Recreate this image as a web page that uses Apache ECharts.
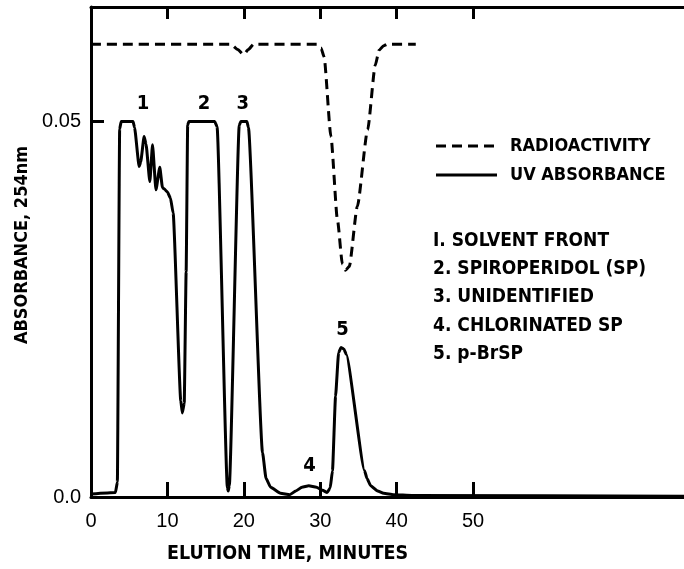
<!DOCTYPE html>
<html>
<head>
<meta charset="utf-8">
<script src="https://cdn.jsdelivr.net/npm/echarts@6/dist/echarts.min.js"></script>
<style>
html,body{margin:0;padding:0;background:#fff;}
#c{width:684px;height:569px;}
</style>
</head>
<body>
<div id="c"></div>
<script>
// ---- data (time in minutes, absorbance units) ----
var uvTime = [0, 3.2, 3.45, 3.75, 3.95, 5.5, 5.7, 6.3, 6.5, 6.95, 7.2, 7.7, 8.05, 8.5, 9.0, 9.35, 9.6, 10.0, 10.4, 10.75, 11.75, 11.95, 12.2, 12.45, 12.65, 12.8, 16.2, 16.5, 17.85, 17.95, 18.1, 19.4, 19.6, 20.4, 20.6, 22.45, 22.9, 23.5, 24.8, 26.0, 26.8, 27.6, 28.5, 29.5, 30.3, 30.9, 31.3, 31.6, 32.0, 32.4, 32.7, 33.1, 33.4, 35.8, 36.1, 36.6, 37.5, 38.3, 39.6, 42, 77.6];
var uvValue = [0.0004, 0.0006, 0.002, 0.049, 0.05, 0.05, 0.0492, 0.044, 0.0446, 0.048, 0.047, 0.042, 0.0469, 0.0409, 0.0439, 0.0412, 0.041, 0.0406, 0.0398, 0.0378, 0.0128, 0.0112, 0.0125, 0.03, 0.0495, 0.05, 0.05, 0.0493, 0.0012, 0.0008, 0.0015, 0.0495, 0.05, 0.05, 0.0492, 0.0059, 0.0025, 0.0013, 0.0005, 0.0003, 0.0008, 0.0013, 0.0015, 0.0013, 0.0009, 0.0006, 0.0012, 0.0035, 0.0134, 0.0192, 0.0199, 0.0197, 0.019, 0.0035, 0.0025, 0.0015, 0.0008, 0.0005, 0.0003, 0.0002, 0.0001];
var radioTime = [0, 18.3, 19.2, 19.95, 20.6, 21.3, 29.6, 30.1, 30.5, 31.4, 32.25, 32.9, 33.3, 33.8, 34.85, 36.2, 37.2, 37.7, 38.3, 38.8, 42.5];
var radioValue = [0.0603, 0.0603, 0.0596, 0.0589, 0.0596, 0.0603, 0.0603, 0.0598, 0.0586, 0.048, 0.0369, 0.031, 0.0302, 0.0307, 0.0387, 0.0489, 0.0575, 0.0595, 0.0601, 0.0603, 0.0603];
var peakNames = ['1', '2', '3', '4', '5'];
var peakTime = [6.8, 14.8, 19.85, 28.6, 32.9];
var peakValue = [0.0523, 0.0523, 0.0523, 0.0041, 0.0222];
var xLabelValues = [0, 10, 20, 30, 40, 50];
var xTickValues = [10, 20, 30, 40, 50];
var yLabelValues = [0, 0.05];
var yLabelTexts = ['0.0', '0.05'];
var legendTexts = ['RADIOACTIVITY', 'UV ABSORBANCE'];
var noteTexts = ['I. SOLVENT FRONT', '2. SPIROPERIDOL (SP)', '3. UNIDENTIFIED', '4. CHLORINATED SP', '5. p-BrSP'];
var xTitle = 'ELUTION TIME, MINUTES';
var yTitle = 'ABSORBANCE, 254nm';

var FONT = "'DejaVu Sans Condensed', 'Liberation Sans', sans-serif";
var NUMFONT = "'Liberation Sans', 'DejaVu Sans', sans-serif";

function zip(a, b) { return a.map(function (v, i) { return [v, b[i]]; }); }

var chart = echarts.init(document.getElementById('c'), null, {renderer: 'canvas'});

var graphics = [];
// legend samples
graphics.push({type: 'line', shape: {x1: 436, y1: 146, x2: 497, y2: 146}, style: {stroke: '#000', lineWidth: 3, lineDash: [10, 6]}});
graphics.push({type: 'line', shape: {x1: 436, y1: 175, x2: 497, y2: 175}, style: {stroke: '#000', lineWidth: 3}});
legendTexts.forEach(function (t, i) {
  graphics.push({type: 'text', x: 510, y: 146 + i * 29, style: {text: t, fill: '#000', font: 'bold 18px ' + FONT, verticalAlign: 'middle', align: 'left'}});
});
noteTexts.forEach(function (t, i) {
  graphics.push({type: 'text', x: 433, y: 241 + i * 28.2, style: {text: t, fill: '#000', font: 'bold 19px ' + FONT, verticalAlign: 'middle', align: 'left'}});
});

var option = {
  backgroundColor: '#fff',
  animation: false,
  grid: {left: 91, top: 7, right: 0, bottom: 72, containLabel: false, outerBoundsMode: 'none'},
  xAxis: [{
    type: 'value', min: 0, max: 77.6, position: 'bottom',
    name: xTitle, nameLocation: 'middle', nameGap: 47,
    nameTextStyle: {color: '#000', fontSize: 19.5, fontWeight: 'bold', fontFamily: FONT, padding: [0, 200, 0, 0]},
    axisLine: {show: true, lineStyle: {color: '#000', width: 3}},
    axisTick: {show: true, inside: true, length: 15, customValues: xTickValues, lineStyle: {color: '#000', width: 3}},
    axisLabel: {show: true, customValues: xLabelValues, color: '#000', fontSize: 20, fontFamily: NUMFONT, margin: 14},
    splitLine: {show: false}
  }, {
    type: 'value', min: 0, max: 77.6, position: 'top',
    axisLine: {show: true, lineStyle: {color: '#000', width: 3}},
    axisTick: {show: true, inside: true, length: 12, customValues: xTickValues, lineStyle: {color: '#000', width: 3}},
    axisLabel: {show: false},
    splitLine: {show: false}
  }],
  yAxis: [{
    type: 'value', min: 0, max: 0.06525,
    name: yTitle, nameLocation: 'middle', nameGap: 60, nameRotate: 90,
    nameTextStyle: {color: '#000', fontSize: 18, fontWeight: 'bold', fontFamily: FONT, padding: [0, 0, 0, 14]},
    axisLine: {show: true, lineStyle: {color: '#000', width: 3}},
    axisTick: {show: true, inside: true, length: 13, customValues: [0.05], lineStyle: {color: '#000', width: 3}},
    axisLabel: {show: true, customValues: yLabelValues, color: '#000', fontSize: 20, fontFamily: NUMFONT, margin: 10,
      formatter: function (v) { var i = yLabelValues.indexOf(v); return i >= 0 ? yLabelTexts[i] : ''; }},
    splitLine: {show: false}
  }],
  series: [{
    name: 'UV ABSORBANCE', type: 'line', data: zip(uvTime, uvValue),
    showSymbol: false, symbol: 'none', smooth: 0.15, smoothMonotone: 'x',
    lineStyle: {color: '#000', width: 3}, z: 3
  }, {
    name: 'RADIOACTIVITY', type: 'line', data: zip(radioTime, radioValue),
    showSymbol: false, symbol: 'none', smooth: 0.2, smoothMonotone: 'x',
    lineStyle: {color: '#000', width: 3, type: [10, 6]}, z: 3
  }, {
    name: 'peaks', type: 'scatter', symbolSize: 0,
    itemStyle: {color: '#000', opacity: 1},
    data: peakNames.map(function (n, i) { return {name: n, value: [peakTime[i], peakValue[i]]}; }),
    label: {show: true, position: 'top', distance: 0, verticalAlign: 'middle', formatter: '{b}', color: '#000', opacity: 1, fontSize: 20, fontFamily: FONT, fontWeight: 'bold'},
    silent: true, z: 4
  }],
  graphic: graphics
};
chart.setOption(option);
</script>
</body>
</html>
